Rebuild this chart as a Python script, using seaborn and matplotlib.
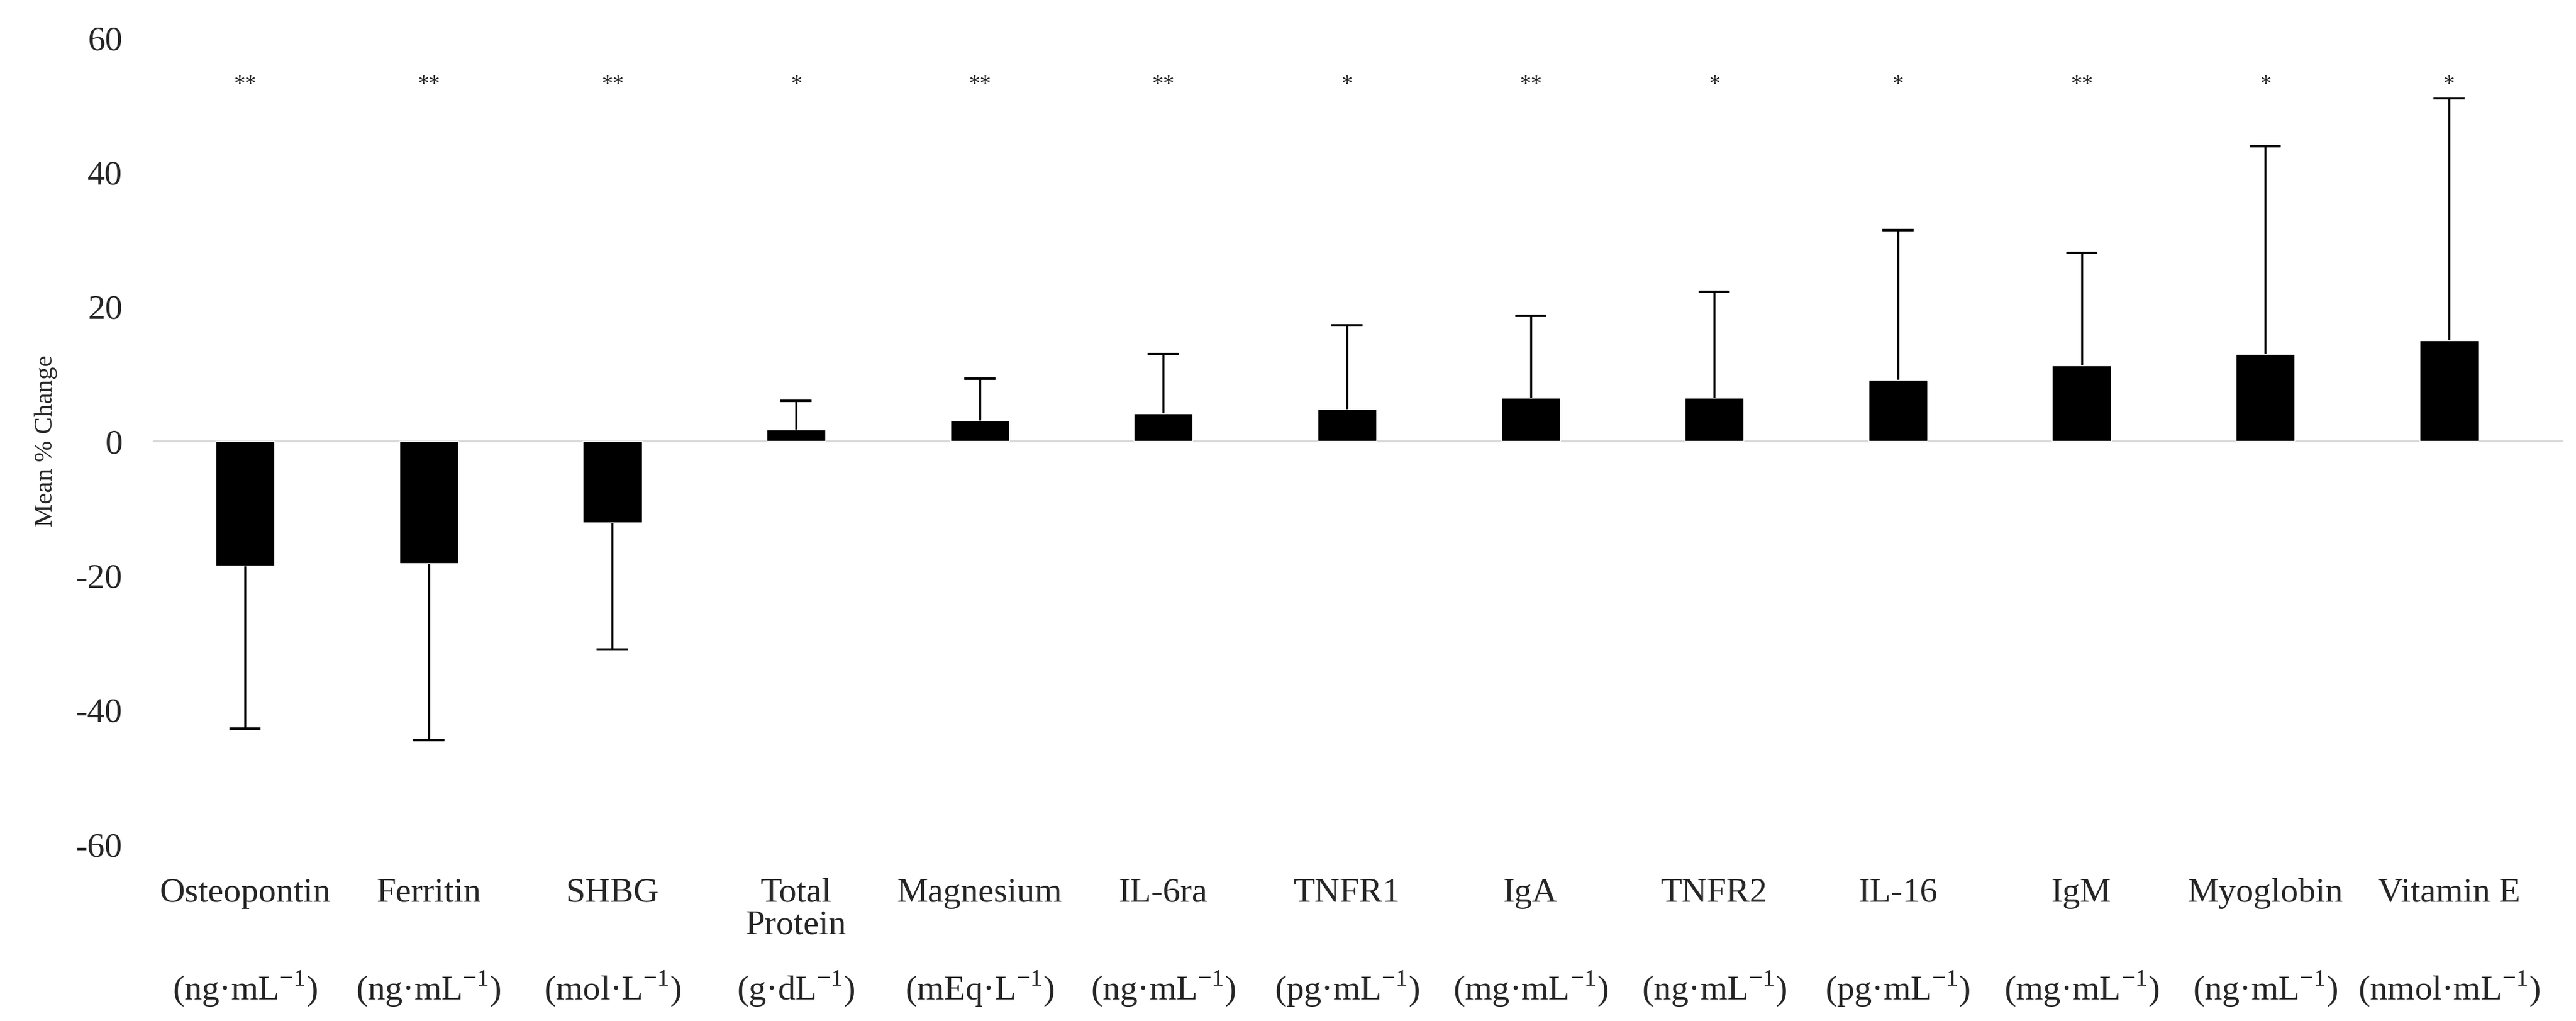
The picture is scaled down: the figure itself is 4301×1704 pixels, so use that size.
import matplotlib
matplotlib.use("Agg")
import matplotlib.pyplot as plt
import seaborn as sns
import pandas as pd

# values
markers = ["Osteopontin", "Ferritin", "SHBG", "Total\nProtein", "Magnesium", "IL-6ra",
           "TNFR1", "IgA", "TNFR2", "IL-16", "IgM", "Myoglobin", "Vitamin E"]
units = ["ng·mL", "ng·mL", "mol·L", "g·dL", "mEq·L", "ng·mL",
         "pg·mL", "mg·mL", "ng·mL", "pg·mL", "mg·mL", "ng·mL", "nmol·mL"]
mean_change = [-18.5, -18.2, -12.1, 1.7, 3.0, 4.1, 4.7, 6.4, 6.4, 9.1, 11.2, 12.9, 15.0]
sd_change = [24.3, 26.3, 18.9, 4.3, 6.3, 8.8, 12.5, 12.2, 15.8, 22.3, 16.8, 31.0, 36.0]
signif = ["**", "**", "**", "*", "**", "**", "*", "**", "*", "*", "**", "*", "*"]

df = pd.DataFrame({"marker": markers, "change": mean_change})

sns.set_style("white")
plt.rcParams["font.family"] = ["Liberation Serif", "DejaVu Serif"]
plt.rcParams["mathtext.fontset"] = "custom"
plt.rcParams["mathtext.rm"] = "Liberation Serif"
plt.rcParams["axes.unicode_minus"] = False

fig, ax = plt.subplots(figsize=(43.01, 17.04), dpi=100)
fig.subplots_adjust(left=0.0595, right=0.9863, top=0.963, bottom=0.173)

ax.axhline(0, xmin=0, xmax=1.009, color="#d9d9d9", lw=2.4, zorder=0, clip_on=False)
sns.barplot(data=df, x="marker", y="change", color="black", width=0.32,
            saturation=1, errorbar=None, ax=ax, zorder=2)

# one-sided error bars, pointing away from zero
pos = list(range(len(markers)))
neg_i = [i for i in pos if mean_change[i] < 0]
pos_i = [i for i in pos if mean_change[i] >= 0]
for idx, hide in [(neg_i, 1), (pos_i, 0)]:
    ys = [mean_change[i] for i in idx]
    err = [sd_change[i] for i in idx]
    zeros = [0] * len(idx)
    yerr = [err, zeros] if hide == 1 else [zeros, err]
    eb = ax.errorbar(idx, ys, yerr=yerr, fmt="none", ecolor="black",
                     elinewidth=2.5, capsize=19, capthick=3, zorder=1)
    eb[1][hide].set_visible(False)

for i, star in enumerate(signif):
    ax.text(i, 53, star, ha="center", va="center", fontsize=27)

for i, u in enumerate(units):
    ax.text(i, -0.179, "(" + u + r"$^{\mathrm{-1}}$)", ha="center", va="center",
            fontsize=42, transform=ax.get_xaxis_transform())

ax.set_ylim(-60, 60)
ax.set_yticks(range(-60, 61, 20))
ax.set_xlim(-0.5, len(markers) - 0.5)
ax.tick_params(axis="y", length=0, pad=37, labelsize=42)
ax.tick_params(axis="x", length=0, pad=40, labelsize=42)
for lbl in ax.get_xticklabels():
    lbl.set_linespacing(1.05)
ax.set_xlabel("")
ax.set_ylabel("Mean % Change", fontsize=31)
ax.yaxis.set_label_coords(-0.040, 0.5)
sns.despine(ax=ax, left=True, bottom=True)

fig.savefig("out.png", dpi=100, facecolor="white")
